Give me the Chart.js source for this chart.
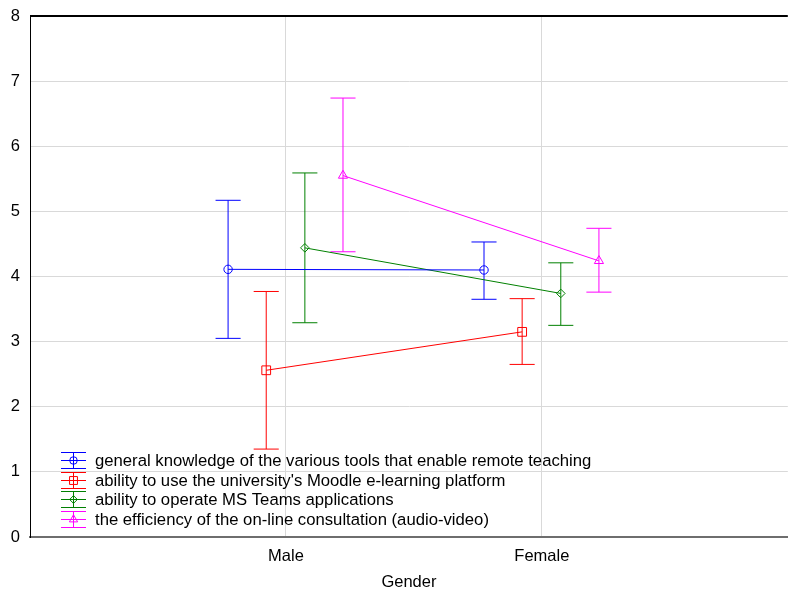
<!DOCTYPE html>
<html>
<head>
<meta charset="utf-8">
<script src="https://cdn.jsdelivr.net/npm/chart.js@4.4.1/dist/chart.umd.min.js"></script>
<style>
  html, body { margin: 0; padding: 0; background: #fff; overflow: hidden; }
  #wrap { width: 788px; height: 592px; overflow: hidden; }
  canvas { display: block; }
</style>
</head>
<body>
<div id="wrap"><canvas id="c" width="788" height="592"></canvas></div>
<script>
// Group labels on the x axis
const categories = ['Male', 'Female'];
const xTitle = 'Gender';
const yTicks = [0, 1, 2, 3, 4, 5, 6, 7, 8];

// Series names
const seriesNames = [
  'general knowledge of the various tools that enable remote teaching',
  "ability to use the university's Moodle e-learning platform",
  'ability to operate MS Teams applications',
  'the efficiency of the on-line consultation (audio-video)'
];

// Means and interval bounds per group (Male, Female)
const knowledgeMean = [4.11, 4.10];
const knowledgeLow  = [3.05, 3.65];
const knowledgeHigh = [5.17, 4.53];

const moodleMean = [2.56, 3.15];
const moodleLow  = [1.35, 2.65];
const moodleHigh = [3.77, 3.66];

const teamsMean = [4.44, 3.74];
const teamsLow  = [3.29, 3.25];
const teamsHigh = [5.59, 4.21];

const consultMean = [5.55, 4.24];
const consultLow  = [4.38, 3.76];
const consultHigh = [6.74, 4.74];

const series = [
  { mean: knowledgeMean, low: knowledgeLow, high: knowledgeHigh, color: '#0000ff', style: 'circle',   radius: 4.2, offset: -0.226 },
  { mean: moodleMean,    low: moodleLow,    high: moodleHigh,    color: '#ff0000', style: 'rect',     radius: 6.2, offset: -0.077 },
  { mean: teamsMean,     low: teamsLow,     high: teamsHigh,     color: '#008000', style: 'rectRot',  radius: 4.3, offset: 0.074 },
  { mean: consultMean,   low: consultLow,   high: consultHigh,   color: '#ff00ff', style: 'triangle', radius: 5.3, offset: 0.223 }
];

const FONT = 'Liberation Sans, Arial, sans-serif';
const CAP_X = 0.049;   // half width of a whisker cap, in x-axis units
const CAP = 12.5;      // same half width in legend pixels
const VIEW_W = 788;

// Whiskers: one broken polyline per series (lower cap, stem, upper cap per group)
function whiskerPoints(s) {
  const pts = [];
  categories.forEach((_, g) => {
    const x = g + 1 + s.offset;
    const lo = s.low[g], hi = s.high[g];
    pts.push({ x: x - CAP_X, y: lo }, { x: x + CAP_X, y: lo }, { x: x, y: null });
    pts.push({ x: x, y: lo }, { x: x, y: hi }, { x: x, y: null });
    pts.push({ x: x - CAP_X, y: hi }, { x: x + CAP_X, y: hi }, { x: x, y: null });
  });
  return pts;
}

function buildDatasets() {
  const whiskers = series.map(s => ({
    label: '',
    data: whiskerPoints(s),
    borderColor: s.color,
    backgroundColor: s.color,
    borderWidth: 1,
    pointRadius: 0,
    pointHoverRadius: 0,
    showLine: true,
    spanGaps: false,
    tension: 0,
    order: 2
  }));
  const means = series.map((s, i) => ({
    label: seriesNames[i],
    data: categories.map((_, g) => ({ x: g + 1 + s.offset, y: s.mean[g] })),
    borderColor: s.color,
    backgroundColor: 'rgba(255,255,255,0)',
    borderWidth: 1,
    pointStyle: s.style,
    pointRadius: s.radius,
    pointHoverRadius: s.radius,
    pointBorderWidth: 1,
    pointBackgroundColor: 'rgba(255,255,255,0)',
    pointBorderColor: s.color,
    showLine: true,
    tension: 0,
    order: 1
  }));
  return whiskers.concat(means);
}

// Frame line along the top of the plot area
const frame = {
  id: 'frame',
  afterDraw(chart) {
    const { ctx, chartArea: a } = chart;
    ctx.save();
    ctx.strokeStyle = '#000';
    ctx.lineWidth = 2;
    ctx.beginPath();
    ctx.moveTo(a.left, a.top); ctx.lineTo(a.right, a.top);
    ctx.stroke();
    ctx.restore();
  }
};

// Legend inside the plot, lower left, with whisker symbols
const insideLegend = {
  id: 'insideLegend',
  afterDraw(chart) {
    const { ctx } = chart;
    const x0 = 73.5, tx = 95, y0 = 460, step = 19.6;
    series.forEach((s, i) => {
      const yc = Math.round(y0 + i * step) + 0.5;
      ctx.save();
      ctx.globalAlpha = 1;
      ctx.setLineDash([]);
      ctx.strokeStyle = s.color;
      ctx.fillStyle = 'rgba(255,255,255,0)';
      ctx.lineWidth = 1;
      ctx.beginPath();
      ctx.moveTo(x0 - CAP, yc - 8); ctx.lineTo(x0 + CAP, yc - 8);
      ctx.moveTo(x0 - CAP, yc + 8); ctx.lineTo(x0 + CAP, yc + 8);
      ctx.moveTo(x0 - CAP, yc); ctx.lineTo(x0 + CAP, yc);
      ctx.moveTo(x0, yc - 8); ctx.lineTo(x0, yc + 8);
      ctx.stroke();
      Chart.helpers.drawPoint(ctx, {
        pointStyle: s.style, radius: s.radius * 0.9, borderWidth: 1, rotation: 0
      }, x0, yc);
      ctx.restore();
      ctx.save();
      ctx.font = '16.7px ' + FONT;
      ctx.textBaseline = 'middle';
      ctx.textAlign = 'left';
      ctx.fillStyle = '#000';
      ctx.fillText(seriesNames[i], tx, yc + 1);
      ctx.restore();
    });
  }
};

function makeChart(canvas) {
  return new Chart(canvas, {
    type: 'scatter',
    data: { datasets: buildDatasets() },
    plugins: [frame, insideLegend],
    options: {
      responsive: false,
      animation: false,
      events: [],
      layout: { padding: { top: 16, right: 0, left: 0, bottom: 0 } },
      plugins: { legend: { display: false }, tooltip: { enabled: false } },
      scales: {
        x: {
          type: 'linear',
          min: 0,
          max: 2.961,
          afterBuildTicks(scale) { scale.ticks = categories.map((_, i) => ({ value: i + 1 })); },
          afterFit(scale) { scale.height = 55; },
          ticks: {
            autoSkip: false,
            maxRotation: 0,
            padding: 10,
            color: '#000',
            font: { family: FONT, size: 16.5 },
            callback: (v) => categories[v - 1] ?? ''
          },
          grid: { color: '#d9d9d9', lineWidth: 1, drawTicks: false },
          border: { display: true, color: '#6e6e6e', width: 2 },
          title: {
            display: true,
            text: xTitle,
            color: '#000',
            font: { family: FONT, size: 16.5 },
            padding: { top: 16, bottom: 0 }
          }
        },
        y: {
          type: 'linear',
          min: 0,
          max: 8,
          afterBuildTicks(scale) { scale.ticks = yTicks.map(v => ({ value: v })); },
          afterFit(scale) {
            scale.width = 30;
            scale.paddingTop = 0; scale.paddingBottom = 0;
          },
          ticks: {
            padding: 10,
            color: '#000',
            font: { family: FONT, size: 16.5 }
          },
          grid: { color: '#d9d9d9', lineWidth: 1, drawTicks: false },
          border: { display: true, color: '#000', width: 1 }
        }
      }
    }
  });
}

// The plot area runs on past the right edge of the view: if the chart area
// stops short of that edge, rebuild on a wider canvas (#wrap clips the rest).
const canvas = document.getElementById('c');
let chart = makeChart(canvas);
const gap = Math.round(VIEW_W - chart.chartArea.right);
if (gap > 0) {
  chart.destroy();
  canvas.width = VIEW_W + gap;
  canvas.height = 592;
  canvas.style.width = (VIEW_W + gap) + 'px';
  canvas.style.height = '592px';
  chart = makeChart(canvas);
}
</script>
</body>
</html>
